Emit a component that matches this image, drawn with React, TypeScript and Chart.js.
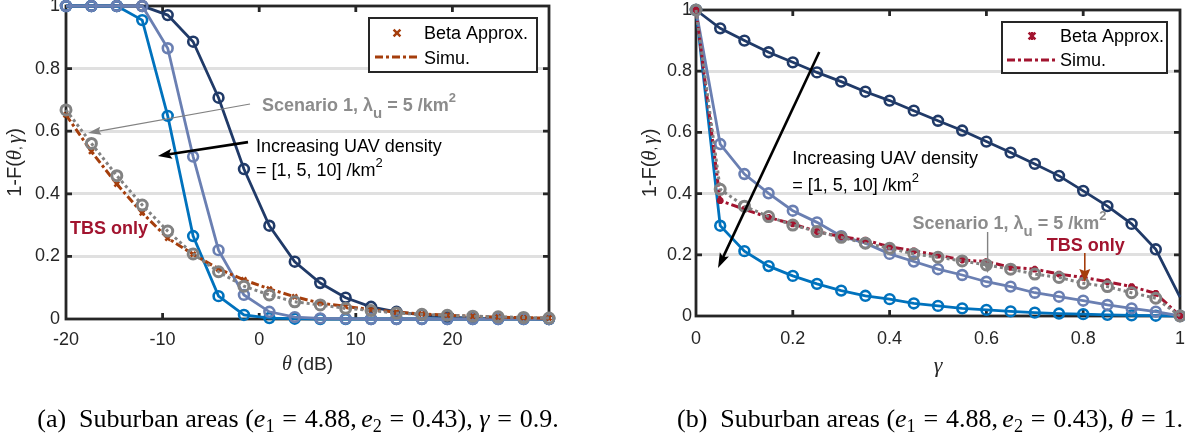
import React, { useEffect, useRef } from 'react';
import { Chart, registerables } from 'chart.js';

Chart.register(...registerables);

// ---------- data: panel (a), x = theta (dB), gamma = 0.9 ----------
const thetaDb = [-20, -17.37, -14.74, -12.11, -9.47, -6.84, -4.21, -1.58, 1.05, 3.68, 6.32, 8.95, 11.58, 14.21, 16.84, 19.47, 22.11, 24.74, 27.37, 30];
const aUav10 = [1, 1, 1, 1, 0.971, 0.886, 0.707, 0.479, 0.298, 0.183, 0.115, 0.068, 0.039, 0.023, 0.013, 0.006, 0.003, 0.002, 0.001, 0];
const aUav5 = [1, 1, 1, 1, 0.865, 0.519, 0.22, 0.077, 0.023, 0.006, 0.002, 0.001, 0, 0, 0, 0, 0, 0, 0, 0];
const aUav1 = [1, 1, 1, 0.955, 0.649, 0.265, 0.073, 0.013, 0.003, 0.001, 0, 0, 0, 0, 0, 0, 0, 0, 0, 0];
const aScenario1 = [0.668, 0.561, 0.458, 0.364, 0.281, 0.208, 0.151, 0.105, 0.077, 0.055, 0.045, 0.034, 0.027, 0.019, 0.015, 0.012, 0.009, 0.007, 0.005, 0.003];
const aTbsOnly = [0.652, 0.535, 0.431, 0.339, 0.258, 0.207, 0.16, 0.125, 0.096, 0.071, 0.051, 0.04, 0.03, 0.022, 0.016, 0.012, 0.009, 0.006, 0.004, 0.003];

// ---------- data: panel (b), x = gamma, theta = 1 ----------
const gammaVals = [0, 0.05, 0.1, 0.15, 0.2, 0.25, 0.3, 0.35, 0.4, 0.45, 0.5, 0.55, 0.6, 0.65, 0.7, 0.75, 0.8, 0.85, 0.9, 0.95, 1];
const bUav10 = [1, 0.94, 0.9, 0.862, 0.829, 0.796, 0.766, 0.733, 0.704, 0.671, 0.638, 0.606, 0.57, 0.534, 0.497, 0.458, 0.409, 0.359, 0.301, 0.218, 0.062];
const bUav5 = [1, 0.562, 0.464, 0.401, 0.344, 0.306, 0.261, 0.238, 0.203, 0.178, 0.153, 0.134, 0.112, 0.096, 0.076, 0.063, 0.05, 0.036, 0.025, 0.014, 0];
const bUav1 = [1, 0.295, 0.212, 0.163, 0.131, 0.105, 0.083, 0.066, 0.055, 0.041, 0.033, 0.025, 0.02, 0.015, 0.011, 0.008, 0.006, 0.004, 0.002, 0.001, 0];
const bScenario1 = [1, 0.414, 0.359, 0.325, 0.297, 0.276, 0.257, 0.238, 0.221, 0.203, 0.192, 0.18, 0.167, 0.153, 0.137, 0.126, 0.107, 0.096, 0.076, 0.058, 0];
const bTbsOnly = [1, 0.377, 0.349, 0.322, 0.301, 0.276, 0.259, 0.248, 0.226, 0.213, 0.199, 0.183, 0.178, 0.159, 0.153, 0.137, 0.126, 0.112, 0.096, 0.074, 0];

// ---------- ticks ----------
const xTicksA = [-20, -10, 0, 10, 20];
const xTicksB = [0, 0.2, 0.4, 0.6, 0.8, 1];
const yTicks = [0, 0.2, 0.4, 0.6, 0.8, 1];

const C = {
  navy: '#203a68',
  mid: '#6a7fb2',
  bright: '#0072bd',
  gray: '#828282',
  grayText: '#8c8c8c',
  brown: '#a53e0c',
  crimson: '#a2142f',
  axis: '#262626',
  grid: '#e0e0e0',
};
const SANS = '"Liberation Sans", Arial, Helvetica, sans-serif';
const SERIF = '"Liberation Serif", "Times New Roman", serif';
const OFF = 40; // canvas is shifted up by this many px
const WB = 605; // width of right canvas (overflows page, clipped)

const toXY = (xs: number[], ys: number[]) => xs.map((x, i) => ({ x, y: ys[i] }));
const fmt = (v: number) => String(Number(v.toFixed(2)));

function series(label: string, xs: number[], ys: number[], color: string, order: number, hideLast = false) {
  return {
    label,
    data: toXY(xs, ys),
    borderColor: color,
    backgroundColor: color,
    borderWidth: 2.8,
    pointStyle: 'circle',
    pointRadius: hideLast ? (c: any) => (c.dataIndex === xs.length - 1 ? 0 : 4.9) : 4.9,
    pointBorderWidth: 2.6,
    pointBorderColor: color,
    pointBackgroundColor: 'rgba(0,0,0,0)',
    tension: 0,
    clip: false,
    order,
  };
}
function scenario(xs: number[], ys: number[]) {
  return {
    label: 'Scenario 1',
    data: toXY(xs, ys),
    borderColor: C.gray,
    borderWidth: 3,
    borderDash: [3, 3],
    pointStyle: 'circle',
    pointRadius: 5,
    pointBorderWidth: 3,
    pointBorderColor: C.gray,
    pointBackgroundColor: 'rgba(0,0,0,0)',
    tension: 0,
    clip: false,
    order: 0,
  };
}
function tbs(xs: number[], ys: number[], color: string, style: string) {
  return {
    label: 'TBS only',
    data: toXY(xs, ys),
    borderColor: color,
    borderWidth: 3,
    borderDash: [8, 3, 3, 3],
    pointStyle: style,
    pointRadius: 3.4,
    pointBorderWidth: 2.5,
    pointBorderColor: color,
    pointBackgroundColor: color,
    tension: 0,
    clip: false,
    order: 1,
  };
}

type Part = { t: string; font: string; dy?: number; color?: string };
function richWidth(ctx: CanvasRenderingContext2D, parts: Part[]) {
  let w = 0;
  for (const p of parts) {
    ctx.font = p.font;
    w += ctx.measureText(p.t).width;
  }
  return w;
}
function drawRich(ctx: CanvasRenderingContext2D, x: number, y: number, parts: Part[], color: string, align: 'left' | 'center' = 'left') {
  let cx = align === 'center' ? x - richWidth(ctx, parts) / 2 : x;
  ctx.textAlign = 'left';
  ctx.textBaseline = 'alphabetic';
  for (const p of parts) {
    ctx.font = p.font;
    ctx.fillStyle = p.color || color;
    ctx.fillText(p.t, cx, y + (p.dy || 0));
    cx += ctx.measureText(p.t).width;
  }
}

function arrow(ctx: CanvasRenderingContext2D, x1: number, y1: number, x2: number, y2: number, color: string, lw: number, hl: number, hw: number, notch = 0.8) {
  const a = Math.atan2(y2 - y1, x2 - x1);
  const cs = Math.cos(a), sn = Math.sin(a);
  const bx = x2 - hl * cs, by = y2 - hl * sn;
  const nx = x2 - hl * notch * cs, ny = y2 - hl * notch * sn;
  ctx.save();
  ctx.strokeStyle = color;
  ctx.fillStyle = color;
  ctx.lineWidth = lw;
  ctx.setLineDash([]);
  ctx.beginPath();
  ctx.moveTo(x1, y1);
  ctx.lineTo(nx, ny);
  ctx.stroke();
  ctx.beginPath();
  ctx.moveTo(x2, y2);
  ctx.lineTo(bx - sn * hw / 2, by + cs * hw / 2);
  ctx.lineTo(nx, ny);
  ctx.lineTo(bx + sn * hw / 2, by - cs * hw / 2);
  ctx.closePath();
  ctx.fill();
  ctx.restore();
}

function drawMarker(ctx: CanvasRenderingContext2D, x: number, y: number, style: string, color: string) {
  const r = 3.4;
  ctx.save();
  ctx.strokeStyle = color;
  ctx.lineWidth = 2.5;
  ctx.beginPath();
  ctx.moveTo(x - r, y - r); ctx.lineTo(x + r, y + r);
  ctx.moveTo(x - r, y + r); ctx.lineTo(x + r, y - r);
  if (style === 'star') {
    ctx.moveTo(x, y - r * 1.2); ctx.lineTo(x, y + r * 1.2);
  }
  ctx.stroke();
  ctx.restore();
}

function drawLegend(ctx: CanvasRenderingContext2D, ca: any, o: { ri: number; ti: number; w: number; h: number; color: string; marker: string; mx: number; my: number; tx: number; ly: number; l1: number; l2: number; sy: number }) {
  const x0 = ca.right - o.ri - o.w;
  const y0 = ca.top + o.ti;
  ctx.save();
  ctx.fillStyle = '#ffffff';
  ctx.fillRect(x0, y0, o.w, o.h);
  ctx.strokeStyle = C.axis;
  ctx.lineWidth = 2;
  ctx.strokeRect(x0, y0, o.w, o.h);
  drawMarker(ctx, x0 + o.mx, y0 + o.my, o.marker, o.color);
  ctx.strokeStyle = o.color;
  ctx.lineWidth = 3;
  ctx.setLineDash([8, 3, 3, 3]);
  ctx.beginPath();
  ctx.moveTo(x0 + o.l1, y0 + o.ly);
  ctx.lineTo(x0 + o.l2, y0 + o.ly);
  ctx.stroke();
  ctx.setLineDash([]);
  ctx.fillStyle = '#000';
  ctx.font = `18px ${SANS}`;
  ctx.textAlign = 'left';
  ctx.textBaseline = 'middle';
  ctx.fillText('Beta Approx.', x0 + o.tx, y0 + o.my + 1);
  ctx.fillText('Simu.', x0 + o.tx, y0 + o.sy);
  ctx.restore();
}

function drawFrame(chart: any, xTicks: number[]) {
  const { ctx, chartArea: ca, scales } = chart;
  ctx.save();
  ctx.strokeStyle = C.axis;
  ctx.lineWidth = 2.8;
  ctx.setLineDash([]);
  ctx.strokeRect(ca.left, ca.top, ca.right - ca.left, ca.bottom - ca.top);
  const tl = 6;
  ctx.beginPath();
  for (const v of xTicks) {
    const px = scales.x.getPixelForValue(v);
    if (Math.abs(px - ca.left) < 2 || Math.abs(px - ca.right) < 2) continue;
    ctx.moveTo(px, ca.bottom); ctx.lineTo(px, ca.bottom - tl);
    ctx.moveTo(px, ca.top); ctx.lineTo(px, ca.top + tl);
  }
  for (const v of yTicks) {
    const py = scales.y.getPixelForValue(v);
    if (Math.abs(py - ca.top) < 2 || Math.abs(py - ca.bottom) < 2) continue;
    ctx.moveTo(ca.left, py); ctx.lineTo(ca.left + tl, py);
    ctx.moveTo(ca.right, py); ctx.lineTo(ca.right - tl, py);
  }
  ctx.stroke();
  ctx.restore();
}

function yTitle(ctx: CanvasRenderingContext2D, cx: number, cy: number) {
  ctx.save();
  ctx.translate(cx, cy);
  ctx.rotate(-Math.PI / 2);
  const sans = `20px ${SANS}`;
  const gr = `italic 21px ${SERIF}`;
  drawRich(ctx, 0, 7, [
    { t: '1-F(', font: sans },
    { t: 'θ', font: gr },
    { t: ', ', font: `12px ${SANS}` },
    { t: 'γ', font: gr },
    { t: ')', font: sans },
  ], '#262626', 'center');
  ctx.restore();
}

function scenarioParts(): Part[] {
  const b = `bold 18px ${SANS}`;
  return [
    { t: 'Scenario 1, ', font: b },
    { t: 'λ', font: `bold 18px ${SANS}` },
    { t: 'u', font: `bold 15px ${SANS}`, dy: 7 },
    { t: ' = 5 /km', font: b },
    { t: '2', font: `bold 13px ${SANS}`, dy: -9 },
  ];
}
function densityLine2(): Part[] {
  return [
    { t: '= [1, 5, 10] /km', font: `18px ${SANS}` },
    { t: '2', font: `13px ${SANS}`, dy: -9 },
  ];
}

function baseOptions(xMin: number, xMax: number, xTicks: number[], pad: any, yPad: number, xPad: number) {
  return {
    responsive: false,
    maintainAspectRatio: false,
    animation: false,
    devicePixelRatio: 1,
    layout: { padding: pad },
    events: [],
    plugins: { legend: { display: false }, tooltip: { enabled: false }, title: { display: false } },
    scales: {
      x: {
        type: 'linear',
        min: xMin,
        max: xMax,
        grid: { display: false, drawTicks: false },
        border: { display: false },
        ticks: { font: { family: SANS, size: 18 }, color: '#262626', padding: xPad, maxRotation: 0, autoSkip: false, callback: (v: any) => fmt(Number(v)) },
        afterBuildTicks: (s: any) => { s.ticks = xTicks.map((v) => ({ value: v })); },
        afterFit: (s: any) => { s.height = 40; },
      },
      y: {
        type: 'linear',
        min: 0,
        max: 1,
        grid: {
          drawTicks: false,
          lineWidth: 3,
          color: (c: any) => (c.tick && (c.tick.value === 0 || c.tick.value === 1) ? 'rgba(0,0,0,0)' : C.grid),
        },
        border: { display: false },
        ticks: { font: { family: SANS, size: 18 }, color: '#262626', padding: yPad, callback: (v: any) => fmt(Number(v)) },
        afterBuildTicks: (s: any) => { s.ticks = yTicks.map((v) => ({ value: v })); },
        afterFit: (s: any) => { s.width = 50; },
      },
    },
  };
}

function configA(): any {
  return {
    type: 'line',
    data: {
      datasets: [
        series('UAV density 10 /km²', thetaDb, aUav10, C.navy, 4),
        series('UAV density 5 /km²', thetaDb, aUav5, C.mid, 2),
        series('UAV density 1 /km²', thetaDb, aUav1, C.bright, 3),
        tbs(thetaDb, aTbsOnly, C.brown, 'crossRot'),
        scenario(thetaDb, aScenario1),
      ],
    },
    options: baseOptions(-20, 30, xTicksA, { left: 16, right: 51, top: 6 + OFF, bottom: 484 - (319 + OFF) - 40 }, 6, 10),
    plugins: [
      {
        id: 'frameA',
        beforeDatasetsDraw: (chart: any) => drawFrame(chart, xTicksA),
        afterDraw: (chart: any) => {
          const { ctx, chartArea: ca, scales } = chart;
          const X = (v: number) => scales.x.getPixelForValue(v);
          const Y = (v: number) => scales.y.getPixelForValue(v);
          drawLegend(ctx, ca, { ri: 12, ti: 12, w: 168, h: 54, color: C.brown, marker: 'crossRot', mx: 28, my: 15, tx: 55, ly: 39, l1: 6, l2: 51, sy: 41 });
          // Scenario 1 label + thin gray arrow
          drawRich(ctx, X(0.29), Y(0.665), scenarioParts(), C.grayText);
          arrow(ctx, X(-0.95), Y(0.687), X(-17.72), Y(0.594), C.gray, 1.2, 13, 8, 0.85);
          // Increasing UAV density
          drawRich(ctx, X(-0.33), Y(0.534), [{ t: 'Increasing UAV density', font: `18px ${SANS}` }], '#000');
          drawRich(ctx, X(-0.33), Y(0.457), densityLine2(), '#000');
          arrow(ctx, X(-1.16), Y(0.565), X(-10.48), Y(0.521), '#000', 2.6, 14, 10, 0.8);
          // TBS only
          drawRich(ctx, X(-19.59), Y(0.272), [{ t: 'TBS only', font: `bold 18px ${SANS}` }], C.crimson);
          // axis titles
          yTitle(ctx, 14, (ca.top + ca.bottom) / 2);
          drawRich(ctx, (ca.left + ca.right) / 2, ca.bottom + 51, [
            { t: 'θ', font: `italic 20px ${SERIF}` },
            { t: ' (dB)', font: `19px ${SANS}` },
          ], '#262626', 'center');
        },
      },
    ],
  };
}

function configB(): any {
  return {
    type: 'line',
    data: {
      datasets: [
        series('UAV density 10 /km²', gammaVals, bUav10, C.navy, 4, true),
        series('UAV density 5 /km²', gammaVals, bUav5, C.mid, 2),
        series('UAV density 1 /km²', gammaVals, bUav1, C.bright, 3),
        tbs(gammaVals, bTbsOnly, C.crimson, 'star'),
        scenario(gammaVals, bScenario1),
      ],
    },
    options: baseOptions(0, 1, xTicksB, { left: 46, right: WB - 580, top: 10 + OFF, bottom: 484 - (316 + OFF) - 40 }, 4, 12),
    plugins: [
      {
        id: 'frameB',
        beforeDatasetsDraw: (chart: any) => drawFrame(chart, xTicksB),
        afterDraw: (chart: any) => {
          const { ctx, chartArea: ca, scales } = chart;
          const X = (v: number) => scales.x.getPixelForValue(v);
          const Y = (v: number) => scales.y.getPixelForValue(v);
          drawLegend(ctx, ca, { ri: 13, ti: 12, w: 165, h: 51, color: C.crimson, marker: 'star', mx: 30, my: 14, tx: 58, ly: 38, l1: 5, l2: 53, sy: 39 });
          // big arrow
          arrow(ctx, X(0.2547), Y(0.8627), X(0.0455), Y(0.1569), '#000', 2.6, 15, 10, 0.8);
          drawRich(ctx, X(0.1988), Y(0.4967), [{ t: 'Increasing UAV density', font: `18px ${SANS}` }], '#000');
          drawRich(ctx, X(0.1988), Y(0.4085), densityLine2(), '#000');
          // Scenario 1
          drawRich(ctx, X(0.4472), Y(0.2843), scenarioParts(), C.grayText);
          arrow(ctx, X(0.6025), Y(0.2745), X(0.6025), Y(0.1405), C.gray, 1.4, 12, 10, 0.85);
          // TBS only
          drawRich(ctx, X(0.7246), Y(0.2124), [{ t: 'TBS only', font: `bold 18px ${SANS}` }], C.crimson);
          arrow(ctx, X(0.8033), Y(0.2059), X(0.8033), Y(0.1111), C.brown, 1.6, 13, 11, 0.85);
          // axis titles
          yTitle(ctx, 49, (ca.top + ca.bottom) / 2);
          drawRich(ctx, (ca.left + ca.right) / 2, ca.bottom + 56, [{ t: 'γ', font: `italic 22px ${SERIF}` }], '#262626', 'center');
        },
      },
    ],
  };
}

const capBase: React.CSSProperties = {
  position: 'absolute',
  top: 404,
  height: 30,
  lineHeight: '30px',
  fontFamily: SERIF,
  fontSize: 26,
  color: '#000',
  whiteSpace: 'nowrap',
  transform: 'translateX(-50%)',
};
const subStyle: React.CSSProperties = { fontSize: '0.7em', verticalAlign: '-0.28em', lineHeight: 0 };
const Eq = () => <span style={{ margin: '0 0.3em' }}>=</span>;

export default function App() {
  const refA = useRef<HTMLCanvasElement>(null);
  const refB = useRef<HTMLCanvasElement>(null);
  useEffect(() => {
    const a = new Chart(refA.current as HTMLCanvasElement, configA());
    const b = new Chart(refB.current as HTMLCanvasElement, configB());
    return () => {
      a.destroy();
      b.destroy();
    };
  }, []);
  return (
    <div style={{ position: 'absolute', left: 0, top: 0, width: 1185, height: 444, overflow: 'hidden', background: '#fff' }}>
      <canvas ref={refA} width={600} height={484} style={{ position: 'absolute', left: 0, top: -OFF, width: 600, height: 484 }} />
      <canvas ref={refB} width={WB} height={484} style={{ position: 'absolute', left: 600, top: -OFF, width: WB, height: 484 }} />
      <div style={{ ...capBase, left: 298 }}>
        (a)<span style={{ marginLeft: '0.5em' }}>Suburban areas (</span><i>e</i><sub style={subStyle}>1</sub><Eq />4.88,<span style={{ marginLeft: '0.17em' }}><i>e</i></span><sub style={subStyle}>2</sub><Eq />0.43), <i>γ</i><Eq />0.9.
      </div>
      <div style={{ ...capBase, left: 930 }}>
        (b)<span style={{ marginLeft: '0.5em' }}>Suburban areas (</span><i>e</i><sub style={subStyle}>1</sub><Eq />4.88,<span style={{ marginLeft: '0.17em' }}><i>e</i></span><sub style={subStyle}>2</sub><Eq />0.43), <i>θ</i><Eq />1.
      </div>
    </div>
  );
}
